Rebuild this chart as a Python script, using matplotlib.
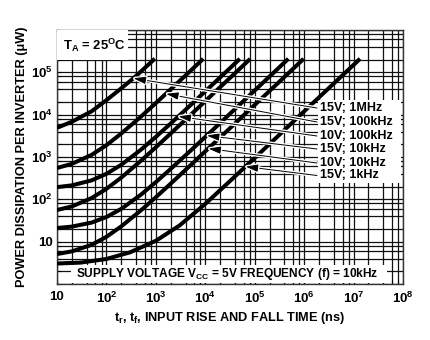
import numpy as np
import matplotlib
matplotlib.use('Agg')
import matplotlib.pyplot as plt
from matplotlib.patches import Rectangle
from matplotlib.ticker import LogLocator, NullFormatter
import matplotlib.patheffects as pe

plt.rcParams['font.family'] = ['Liberation Sans', 'DejaVu Sans']
plt.rcParams['font.weight'] = 'bold'
plt.rcParams['mathtext.fontset'] = 'custom'
plt.rcParams['mathtext.rm'] = 'Liberation Sans:bold'
plt.rcParams['mathtext.bf'] = 'Liberation Sans:bold'
plt.rcParams['mathtext.it'] = 'Liberation Sans:bold'
plt.rcParams['mathtext.default'] = 'rm'

# ---------------- data (rise time in ns, power in uW) ----------------
t_15v_1mhz = [10, 20, 50, 100, 200, 350, 500, 955]
p_15v_1mhz = [4.9e3, 6.8e3, 1.2e4, 2.2e4, 4.2e4, 7.2e4, 1.05e5, 2.1e5]

t_15v_100khz = [10, 20, 50, 100, 200, 500, 1e3, 2e3, 5e3, 9.1e3]
p_15v_100khz = [550, 690, 1.12e3, 1.9e3, 3.6e3, 9.0e3, 1.88e4, 3.98e4, 1.08e5, 2.09e5]

t_10v_100khz = [10, 20, 50, 100, 200, 500, 1e3, 2e3, 5e3, 1e4, 2e4, 5e4]
p_10v_100khz = [194, 214, 280, 400, 655, 1490, 2990, 6200, 1.67e4, 3.56e4, 7.6e4, 2.08e5]

t_15v_10khz = [10, 20, 50, 100, 200, 500, 1e3, 2e3, 5e3, 1e4, 2e4, 5e4, 8.1e4]
p_15v_10khz = [56, 68, 107, 177, 327, 817, 1700, 3600, 9780, 2.09e4, 4.47e4, 1.22e5, 2.08e5]

t_10v_10khz = [10, 20, 50, 100, 200, 500, 1e3, 2e3, 5e3, 1e4, 2e4, 5e4, 1e5, 2e5, 4.8e5]
p_10v_10khz = [21, 22.7, 28.2, 38.2, 59.6, 129, 255, 524, 1400, 2980, 6350, 1.74e4, 3.73e4, 7.99e4, 2.09e5]

t_15v_1khz = [10, 20, 50, 100, 200, 500, 1e3, 2e3, 5e3, 1e4, 2e4, 5e4, 1e5, 2e5, 5e5, 9.8e5]
p_15v_1khz = [5.1, 5.9, 8.4, 13, 23, 55, 112, 235, 635, 1360, 2900, 7930, 1.7e4, 3.64e4, 9.97e4, 2.09e5]

t_5v_10khz = [10, 30, 100, 300, 1e3, 3e3, 1e4, 3e4, 1e5, 3e5, 1e6, 3e6, 1e7, 1.35e7]
p_5v_10khz = [3.05, 3.2, 3.9, 5.6, 10.5, 24, 78, 255, 950, 3170, 1.2e4, 4.0e4, 1.5e5, 2.09e5]

curves = [
    (t_15v_1mhz, p_15v_1mhz),
    (t_15v_100khz, p_15v_100khz),
    (t_10v_100khz, p_10v_100khz),
    (t_15v_10khz, p_15v_10khz),
    (t_10v_10khz, p_10v_10khz),
    (t_15v_1khz, p_15v_1khz),
    (t_5v_10khz, p_5v_10khz),
]

label_texts = ['15V; 1MHz', '15V; 100kHz', '10V; 100kHz', '15V; 10kHz', '10V; 10kHz', '15V; 1kHz']
label_curve_index = [0, 1, 2, 4, 5, 6]
label_tip_t = [351, 1600, 2850, 1.07e4, 1.15e4, 6.5e4]

x_ticks = [10, 1e2, 1e3, 1e4, 1e5, 1e6, 1e7, 1e8]
x_ticklabels = ['10', '$10^{2}$', '$10^{3}$', '$10^{4}$', '$10^{5}$', '$10^{6}$', '$10^{7}$', '$10^{8}$']
y_ticks = [1, 10, 1e2, 1e3, 1e4, 1e5, 1e6]
y_ticklabels = ['', '10', '$10^{2}$', '$10^{3}$', '$10^{4}$', '$10^{5}$', '']

# ---------------- figure ----------------
fig = plt.figure(figsize=(4.31, 3.40), dpi=100)
ax = fig.add_axes([57/431, 1-284/340, 346/431, 254/340])
ax.set_xscale('log')
ax.set_yscale('log')
ax.set_xlim(10, 1e8)
ax.set_ylim(1, 1e6)

ax.set_xticks(x_ticks)
ax.set_xticklabels(x_ticklabels)
ax.set_yticks(y_ticks)
ax.set_yticklabels(y_ticklabels)
for axis in (ax.xaxis, ax.yaxis):
    axis.set_minor_locator(LogLocator(base=10, subs=[2, 4, 6, 8], numticks=30))
    axis.set_minor_formatter(NullFormatter())
ax.tick_params(which='both', direction='in', length=3, width=0.8, labelsize=9.5)
ax.tick_params(axis='x', pad=5)
ax.tick_params(axis='y', pad=3)

ax.set_axisbelow(True)
ax.grid(which='both', color='#111111', lw=0.9)
for s in ax.spines.values():
    s.set_linewidth(1.0)
    s.set_color('#333333')

for t, p in curves:
    ax.plot(t, p, color='black', lw=2.9, solid_capstyle='butt', zorder=4)

# white boxes over the grid
ax.add_patch(Rectangle((0, (284-60)/254), (128-57)/346, 1-(284-60)/254,
                       transform=ax.transAxes, facecolor='white', edgecolor='none', zorder=3))
ax.add_patch(Rectangle(((318-57)/346, (284-183)/254), (401-318)/346, (183-100)/254,
                       transform=ax.transAxes, facecolor='white', edgecolor='none', zorder=3))
ax.add_patch(Rectangle(((71-57)/346, 0.004), (387-71)/346, (284-266)/254,
                       transform=ax.transAxes, facecolor='white', edgecolor='none', zorder=3))

ax.text((63-57)/346, (284-45)/254, 'T$_{A}$ = 25$^{O}$C', transform=ax.transAxes,
        fontsize=9.4, fontweight='bold', va='center', ha='left', zorder=6)
ax.text((76-57)/346, (284-274)/254, 'SUPPLY VOLTAGE V$_{CC}$ = 5V FREQUENCY (f) = 10kHz',
        transform=ax.transAxes, fontsize=8.6, fontweight='bold', va='center', ha='left', zorder=6)

label_y_px = [108, 122, 136, 149, 163, 175.5]
for txt, ci, tt, ypx in zip(label_texts, label_curve_index, label_tip_t, label_y_px):
    tc, pc = curves[ci]
    tip_p = 10 ** np.interp(np.log10(tt), np.log10(tc), np.log10(pc))
    yfrac = (284 - ypx) / 254
    ax.annotate('', xy=(tt, tip_p), xycoords='data',
                xytext=((317-57)/346, yfrac), textcoords='axes fraction',
                arrowprops=dict(arrowstyle='-|>,head_length=0.75,head_width=0.22',
                                color='black', lw=0.7, mutation_scale=10,
                                shrinkA=0, shrinkB=0,
                                path_effects=[pe.withStroke(linewidth=2.6, foreground='white')]),
                zorder=5)
    ax.text((320-57)/346, yfrac, txt, transform=ax.transAxes, fontsize=9,
            fontweight='bold', va='center', ha='left', zorder=6)

ax.set_xlabel('t$_{r}$, t$_{f}$, INPUT RISE AND FALL TIME (ns)', fontsize=9.2,
              fontweight='bold', labelpad=3)
ax.set_ylabel('POWER DISSIPATION PER INVERTER (\u03bcW)', fontsize=9.2,
              fontweight='bold', labelpad=2)

fig.savefig('out.png', dpi=100)
